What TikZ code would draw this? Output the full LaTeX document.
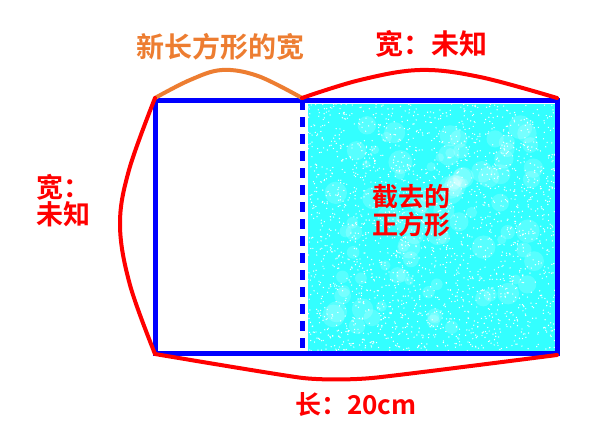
\documentclass[tikz,border=0pt]{standalone}
\usepackage{fontspec}
\newfontfamily\cjk{Noto Sans CJK SC}[BoldFont={* Bold}]
\definecolor{myred}{RGB}{255,0,0}
\definecolor{myorange}{RGB}{237,125,49}
\definecolor{myblue}{RGB}{0,0,255}
\definecolor{mycyan}{RGB}{0,255,255}
\begin{document}
\begin{tikzpicture}[x=1pt,y=-1pt,
  redline/.style={draw=myred,line width=4pt,line join=round,line cap=round},
  orangeline/.style={draw=myorange,line width=4pt,line join=round,line cap=round},
  blueline/.style={draw=myblue,line width=5pt},
  lbl/.style={text=myred,font=\cjk\bfseries\fontsize{28}{30}\selectfont,inner sep=0pt,align=left},
  sidelbl/.style={text=myred,font=\cjk\bfseries\fontsize{27}{30}\selectfont,inner sep=0pt,align=left},
  smalllbl/.style={text=myred,font=\cjk\bfseries\fontsize{26}{28}\selectfont,inner sep=0pt,align=center},
  lenlbl/.style={text=myred,font=\cjk\bfseries\fontsize{26}{30}\selectfont,inner sep=0pt}]
\useasboundingbox (0,0) rectangle (601,433);
\fill[white] (0,0) rectangle (601,433);
% corners
\coordinate (TL) at (155,100);
\coordinate (TR) at (557,100);
\coordinate (BL) at (155,353);
\coordinate (BR) at (557,353);
\coordinate (DT) at (302,100);
\coordinate (DB) at (302,353);
% cyan sprayed square
\fill[mycyan!80] (308,104) rectangle (555,351);
\pgfmathsetseed{12345}
\foreach \i in {1,...,90}{
  \fill[white,opacity=0.18] ({330+205*rnd},{125+205*rnd}) circle ({4+8*rnd});
}
\foreach \i in {1,...,2200}{
  \fill[white] ({308+247*rnd},{104+247*rnd}) circle (0.7);
}
% rectangle
\draw[blueline] (TL) -- (TR) -- (BR) -- (BL) -- cycle;
\draw[blueline,dash pattern=on 10pt off 7pt] (DT) -- (DB);
% braces
\draw[orangeline] plot[smooth,tension=0.6] coordinates {(155,98) (190,80) (222,70) (258,76) (302,98)};
\draw[redline] plot[smooth,tension=0.6] coordinates {(302,98) (360,80) (420,70) (480,77) (557,98)};
\draw[redline] plot[smooth,tension=0.6] coordinates {(155,98) (129,170) (120,225) (130,285) (155,354)};
\draw[redline] plot[smooth,tension=0.3] coordinates {(155,354) (303,378) (372,378) (557,355)};
% labels
\node[lbl,text=myorange] (nw) at (220,47) {新长方形的宽};
\node[lbl] (tw) at (431,44) {宽：未知};
\node[sidelbl,anchor=west] (lw1) at (36,187) {宽：};
\node[sidelbl,anchor=west] (lw2) at (36,214) {未知};
\node[smalllbl] (sq) at (411,211) {截去的\\正方形};
\node[lenlbl] (len) at (356,405) {长：20cm};
\end{tikzpicture}
\end{document}
